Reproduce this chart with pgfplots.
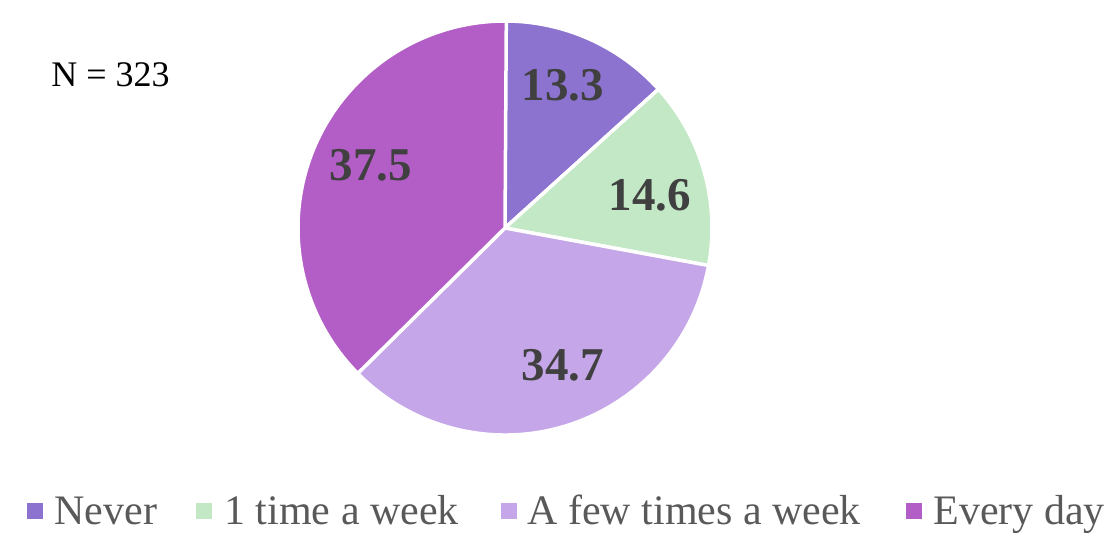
\documentclass[border=0pt]{standalone}
\usepackage{pgfplots}
\pgfplotsset{compat=1.18}
\usepackage{pgfplotstable}
\usepackage{fontspec}
\setmainfont{Liberation Serif}
\usetikzlibrary{calc}

\definecolor{pie0}{HTML}{8C73CF}
\definecolor{pie1}{HTML}{C3E8C6}
\definecolor{pie2}{HTML}{C5A6E8}
\definecolor{pie3}{HTML}{B35EC6}
\definecolor{labgray}{HTML}{404040}
\definecolor{leggray}{HTML}{595959}

% share of respondents (%), with label centre (lx, ly)
\pgfplotstableread{
label value lx ly
Never 13.3 563 446
{1 time a week} 14.6 650 336
{A few times a week} 34.7 563 166
{Every day} 37.5 371 366
}\piedata

\begin{document}
\begin{tikzpicture}
\begin{axis}[
    x=0.5pt, y=0.5pt,
    xmin=0, xmax=1106, ymin=0, ymax=531,
    axis line style={draw=none},
    ticks=none,
    clip=false,
]
% wedges, clockwise from 12 o'clock
\def\cum{0}
\pgfplotsforeachungrouped \i in {0,1,2,3}{%
    \pgfplotstablegetelem{\i}{value}\of\piedata
    \edef\va{\pgfplotsretval}%
    \pgfplotstablegetelem{\i}{lx}\of\piedata
    \edef\lx{\pgfplotsretval}%
    \pgfplotstablegetelem{\i}{ly}\of\piedata
    \edef\ly{\pgfplotsretval}%
    \pgfmathsetmacro\sa{90-3.6*\cum}%
    \pgfmathsetmacro\ea{90-3.6*(\cum+\va)}%
    \pgfmathsetmacro\newcum{\cum+\va}%
    \let\cum\newcum
    \edef\temp{%
        \noexpand\fill[fill=pie\i, draw=white, line width=1.75pt, line join=round]
            (axis cs:505,303) -- ++(\sa:103.5pt)
            arc[start angle=\sa, end angle=\ea, radius=103.5pt] -- cycle;
        \noexpand\node[inner sep=0pt, text=labgray, font=\noexpand\fontsize{23.5}{23.5}\noexpand\selectfont\noexpand\bfseries]
            at (axis cs:\lx,\ly) {\va};
    }%
    \temp
}

\node[anchor=base west, inner sep=0pt, font=\fontsize{18}{18}\selectfont] at (axis cs:51,444.3) {N = 323};

% legend
\tikzset{legtext/.style={anchor=base west, inner sep=0pt, text=leggray, font=\fontsize{21}{21}\selectfont}}
\fill[pie0] (axis cs:27,12) rectangle (axis cs:43,28);
\node[legtext] at (axis cs:54,7) {Never};
\fill[pie1] (axis cs:196,12) rectangle (axis cs:212,28);
\node[legtext] at (axis cs:224,7) {1 time a week};
\fill[pie2] (axis cs:501,12) rectangle (axis cs:517,28);
\node[legtext] at (axis cs:527,7) {A few times a week};
\fill[pie3] (axis cs:906,12) rectangle (axis cs:922,28);
\node[legtext] at (axis cs:933,7) {Every day};
\end{axis}
\end{tikzpicture}
\end{document}
